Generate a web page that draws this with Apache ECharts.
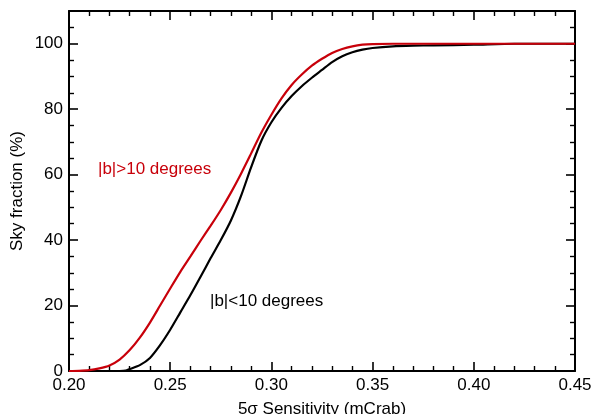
<!DOCTYPE html>
<html><head><meta charset="utf-8">
<script src="https://cdn.jsdelivr.net/npm/echarts@6/dist/echarts.min.js"></script>
<style>html,body{margin:0;padding:0;background:#fff}#c{width:592px;height:414px}</style>
</head><body><div id="c"></div>
<script>
const sensHigh = [0.200,0.205,0.210,0.215,0.220,0.225,0.230,0.235,0.240,0.245,0.250,0.255,0.260,0.265,0.270,0.275,0.280,0.285,0.290,0.295,0.300,0.305,0.310,0.315,0.320,0.325,0.330,0.335,0.340,0.345,0.350,0.360,0.380,0.400,0.420,0.450];
const fracHigh = [0,0.05,0.25,0.8,1.7,3.5,6.4,10.2,14.8,20,25.2,30.3,35,39.8,44.4,49.2,54.5,60.3,66.5,72.8,78.3,83.3,87.4,90.6,93.3,95.4,97.2,98.4,99.2,99.7,99.9,100,100,100,100,100];
const sensLow = [0.200,0.210,0.220,0.225,0.228,0.230,0.235,0.240,0.245,0.250,0.255,0.260,0.265,0.270,0.275,0.280,0.285,0.290,0.295,0.300,0.305,0.310,0.315,0.320,0.325,0.330,0.335,0.340,0.345,0.350,0.360,0.370,0.380,0.400,0.420,0.450];
const fracLow = [0,0,0,0,0.1,0.6,1.8,4.0,7.9,12.6,17.9,23.2,28.8,34.5,40,46,53.5,62.3,70.3,76,80.4,84,87,89.6,92,94.4,96.2,97.4,98.2,98.7,99.2,99.4,99.5,99.7,100,100];
const seriesNames = ['|b|>10 degrees','|b|<10 degrees'];
const xTitle = '5\u03c3 Sensitivity (mCrab)';
const yTitle = 'Sky fraction (%)';

const FONT = '"Liberation Sans", Arial, Helvetica, sans-serif';
const RED = '#c8000a';
const chart = echarts.init(document.getElementById('c'));
const axisLine = {show:true, onZero:false, lineStyle:{color:'#000', width:2}};
const tick = {show:true, inside:true, length:9, lineStyle:{color:'#000', width:1.6}};
const minor = (n)=>({show:true, splitNumber:n, length:5, lineStyle:{color:'#000', width:1.4}});
chart.setOption({
  animation:false,
  grid:{left:69, right:17, top:11, bottom:43, containLabel:false, outerBoundsMode:'none'},
  xAxis:[
    {type:'value', min:0.20, max:0.45, interval:0.05, position:'bottom',
     axisLine, axisTick:tick, minorTick:minor(5), splitLine:{show:false},
     axisLabel:{color:'#000', fontFamily:FONT, fontSize:17, margin:6, formatter:v=>v.toFixed(2)},
     name:xTitle, nameLocation:'middle', nameGap:30, nameMoveOverlap:false,
     nameTextStyle:{color:'#000', fontFamily:FONT, fontSize:17}},
    {type:'value', min:0.20, max:0.45, interval:0.05, position:'top',
     axisLine, axisTick:tick, minorTick:minor(5), splitLine:{show:false}, axisLabel:{show:false}}
  ],
  yAxis:[
    {type:'value', min:0, max:110, interval:20, position:'left',
     axisLine, axisTick:tick, minorTick:minor(4), splitLine:{show:false},
     axisLabel:{color:'#000', fontFamily:FONT, fontSize:17, margin:6, showMaxLabel:false,
       formatter:v=>v>100?'':String(v)},
     name:yTitle, nameLocation:'middle', nameGap:43, nameMoveOverlap:false,
     nameTextStyle:{color:'#000', fontFamily:FONT, fontSize:17}},
    {type:'value', min:0, max:110, interval:20, position:'right',
     axisLine, axisTick:tick, minorTick:minor(4), splitLine:{show:false}, axisLabel:{show:false}}
  ],
  series:[
    {name:seriesNames[1], type:'line', smooth:0.25, symbol:'none', xAxisIndex:0, yAxisIndex:0,
     lineStyle:{color:'#000', width:2.2}, data:sensLow.map((x,i)=>[x,fracLow[i]])},
    {name:seriesNames[0], type:'line', smooth:0.25, symbol:'none', xAxisIndex:0, yAxisIndex:0,
     lineStyle:{color:RED, width:2.2}, data:sensHigh.map((x,i)=>[x,fracHigh[i]])}
  ],
  graphic:[
    {type:'text', left:98, top:161, style:{text:seriesNames[0], fill:RED, font:'17px '+FONT}},
    {type:'text', left:210, top:293, style:{text:seriesNames[1], fill:'#000', font:'17px '+FONT}}
  ]
});
</script></body></html>
